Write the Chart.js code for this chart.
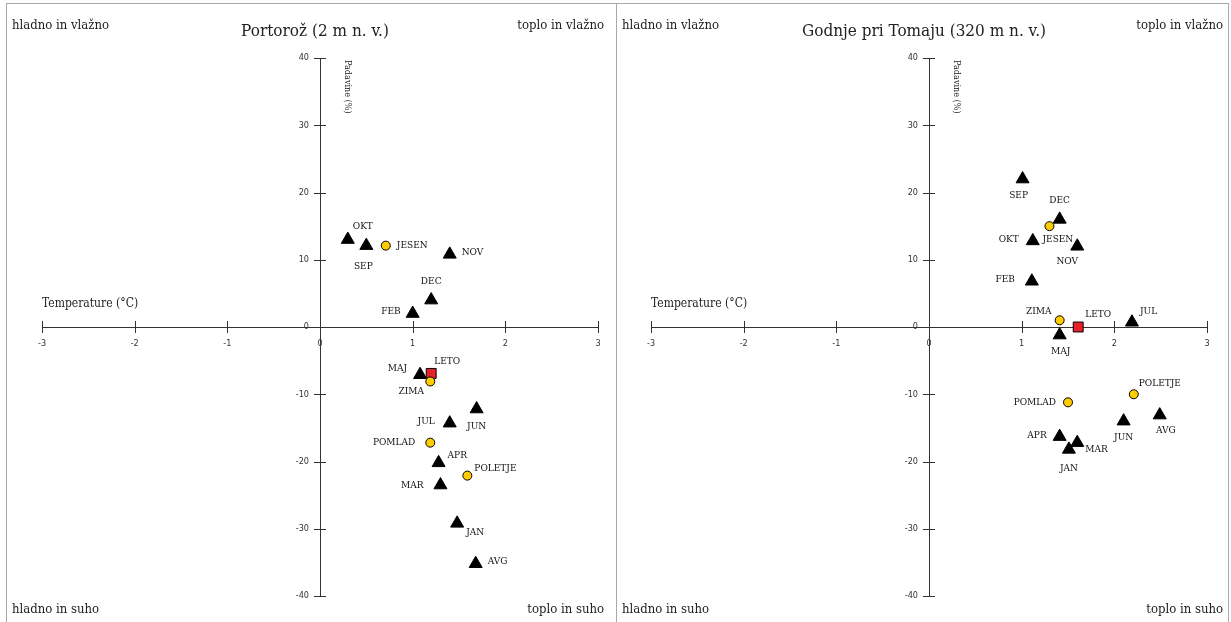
<!DOCTYPE html>
<html><head><meta charset="utf-8">
<script src="https://cdn.jsdelivr.net/npm/chart.js@4/dist/chart.umd.min.js"></script>
<style>
html,body{margin:0;padding:0;background:#fff;}
#wrap{position:relative;width:1231px;height:622px;overflow:hidden;background:#fff;}
.fr{position:absolute;background:#a8a8a8;}
canvas{position:absolute;top:4px;}
</style></head><body>
<div id="wrap">
  <div class="fr" style="left:6px;top:3px;width:1px;height:619px"></div>
  <div class="fr" style="left:616px;top:3px;width:1px;height:619px"></div>
  <div class="fr" style="left:1228px;top:3px;width:1px;height:619px"></div>
  <div class="fr" style="left:6px;top:3px;width:1223px;height:1px"></div>
  <canvas id="c1" width="609" height="616" style="left:7px"></canvas>
  <canvas id="c2" width="610" height="616" style="left:617px"></canvas>
</div>
<script>
// ---- data ----
const monthLabels = ['JAN','FEB','MAR','APR','MAJ','JUN','JUL','AVG','SEP','OKT','NOV','DEC'];
const seasonLabels = ['ZIMA','POMLAD','POLETJE','JESEN'];
const yearLabels = ['LETO'];
const xTickValues = [-3,-2,-1,0,1,2,3];
const yTickValues = [-40,-30,-20,-10,0,10,20,30,40];

const portorozMonthTemp = [1.48, 1.0, 1.3, 1.28, 1.08, 1.69, 1.4, 1.68, 0.5, 0.3, 1.4, 1.2];
const portorozMonthPrec = [-29.2, 2.0, -23.5, -20.2, -7.1, -12.2, -14.3, -35.2, 12.1, 13.0, 10.8, 4.0];
const portorozSeasonTemp = [1.19, 1.19, 1.59, 0.71];
const portorozSeasonPrec = [-8.1, -17.2, -22.1, 12.1];
const portorozYearTemp = [1.2];
const portorozYearPrec = [-6.9];

const godnjeMonthTemp = [1.51, 1.11, 1.6, 1.41, 1.41, 2.1, 2.19, 2.49, 1.01, 1.12, 1.6, 1.41];
const godnjeMonthPrec = [-18.2, 6.8, -17.2, -16.3, -1.2, -14.0, 0.7, -13.1, 22.0, 12.8, 12.0, 16.0];
const godnjeSeasonTemp = [1.41, 1.5, 2.21, 1.3];
const godnjeSeasonPrec = [1.0, -11.2, -10.0, 15.0];
const godnjeYearTemp = [1.61];
const godnjeYearPrec = [0];

// ---- label placement (style only): [align, dx, dy] ----
const portorozLabelPos = {
  OKT:['center',15,-13], SEP:['center',-3,21], JESEN:['left',11,0], NOV:['left',12,-2],
  DEC:['center',0,-19], FEB:['right',-12,-2], MAJ:['right',-13,-6], LETO:['left',3,-12],
  ZIMA:['center',-19,10], JUN:['center',0,17], JUL:['right',-15,-2], POMLAD:['right',-15,0],
  APR:['left',9,-7], POLETJE:['left',7,-7], MAR:['right',-17,0], JAN:['left',9,9], AVG:['left',12,-2]
};
const godnjeLabelPos = {
  SEP:['center',-4,16], DEC:['center',0,-19], JESEN:['left',-7,13], OKT:['right',-14,-2],
  NOV:['center',-10,15], FEB:['right',-17,-2], ZIMA:['center',-21,-9], MAJ:['center',1,16],
  LETO:['left',7,-13], JUL:['left',8,-11], POLETJE:['left',5,-11], POMLAD:['right',-12,0],
  AVG:['center',6,15], JUN:['center',0,16], APR:['right',-13,-1], MAR:['left',8,7], JAN:['center',0,19]
};

const SERIF = "'DejaVu Serif Condensed','DejaVu Serif','Liberation Serif',serif";
const SANS = "'DejaVu Sans Condensed','DejaVu Sans','Liberation Sans',sans-serif";

function pts(xs, ys){ return xs.map((x,i)=>({x:x, y:ys[i]})); }

const decorPlugin = {
  id: 'decor',
  afterDatasetsDraw(chart){
    const o = chart.options.plugins.decor;
    const ctx = chart.ctx;
    const xs = chart.scales.x, ys = chart.scales.y;
    const ca = chart.chartArea;
    const x0 = xs.getPixelForValue(0), y0 = ys.getPixelForValue(0);
    ctx.save();
    // cross tick marks
    ctx.strokeStyle = '#333'; ctx.lineWidth = 1;
    ctx.beginPath();
    xs.ticks.forEach(t=>{ const px = Math.round(xs.getPixelForValue(t.value))+0.5; ctx.moveTo(px, y0-6); ctx.lineTo(px, y0+6); });
    ys.ticks.forEach(t=>{ const py = Math.round(ys.getPixelForValue(t.value))+0.5; ctx.moveTo(x0-6, py); ctx.lineTo(x0+6, py); });
    ctx.stroke();
    // y tick labels (from the library's y scale)
    ctx.fillStyle = '#333';
    ctx.font = "9px " + SANS;
    ctx.textAlign = 'right'; ctx.textBaseline = 'middle';
    ys.ticks.forEach(t=>{ ctx.fillText(String(t.value), x0 - 11, ys.getPixelForValue(t.value)); });
    // point labels
    ctx.fillStyle = '#111';
    ctx.font = "10px " + SERIF;
    ctx.textBaseline = 'middle';
    chart.data.datasets.forEach((ds, di)=>{
      const meta = chart.getDatasetMeta(di);
      meta.data.forEach((el, i)=>{
        const name = ds.names[i];
        const p = o.pos[name] || ['left',10,0];
        ctx.textAlign = p[0];
        ctx.fillText(name, el.x + p[1], el.y + p[2]);
      });
    });
    // axis titles
    ctx.fillStyle = '#222';
    ctx.font = "12px " + SERIF;
    ctx.textAlign = 'left';
    ctx.fillText('Temperature (°C)', ca.left, y0 - 23);
    ctx.save();
    ctx.translate(x0 + 27, ca.top + 2);
    ctx.rotate(Math.PI/2);
    ctx.font = "9px " + SERIF;
    ctx.textBaseline = 'middle';
    ctx.fillText('Padavine (%)', 0, 0);
    ctx.restore();
    // title
    ctx.font = "17px " + SERIF;
    ctx.textAlign = 'center';
    ctx.fillText(o.title, (ca.left+ca.right)/2 - 5, 28);
    // corners
    ctx.font = "13px " + SERIF;
    ctx.textAlign = 'left';
    ctx.fillText('hladno in vlažno', 5, 22);
    ctx.fillText('hladno in suho', 5, 606);
    ctx.textAlign = 'right';
    ctx.fillText('toplo in vlažno', chart.width - o.cornerRight, 22);
    ctx.fillText('toplo in suho', chart.width - o.cornerRight, 606);
    ctx.restore();
  }
};

function makeChart(id, title, pos, mT, mP, sT, sP, yT, yP, padL, padR, cornerRight){
  return new Chart(document.getElementById(id), {
    type: 'scatter',
    data: { datasets: [
      { names: seasonLabels, data: pts(sT, sP), pointStyle: 'circle', pointRadius: 4.5, pointHoverRadius: 4.5,
        backgroundColor: '#FFCC00', borderColor: '#000', borderWidth: 1 },
      { names: yearLabels, data: pts(yT, yP), pointStyle: 'rect', pointRadius: 7, pointHoverRadius: 7,
        backgroundColor: '#E8202A', borderColor: '#000', borderWidth: 1 },
      { names: monthLabels, data: pts(mT, mP), pointStyle: 'triangle', pointRadius: 7.5, pointHoverRadius: 7.5,
        backgroundColor: '#000', borderColor: '#000', borderWidth: 1 }
    ]},
    options: {
      responsive: false, animation: false, devicePixelRatio: 1,
      layout: { padding: { left: padL, right: padR, top: 54, bottom: 24 } },
      plugins: { legend: {display:false}, tooltip: {enabled:false}, title:{display:false},
                 decor: { title: title, pos: pos, cornerRight: cornerRight } },
      scales: {
        x: { type: 'linear', position: { y: 0 }, min: -3, max: 3,
             afterBuildTicks: s => { s.ticks = xTickValues.map(v=>({value:v})); },
             afterFit: s => { s.height = 0; },
             grid: { display: true, drawOnChartArea: false, drawTicks: false },
             border: { display: true, color: '#333', width: 1 },
             ticks: { autoSkip: false, maxRotation: 0, padding: 11, color: '#333', font: { family: SANS, size: 9 } } },
        y: { type: 'linear', position: { x: 0 }, min: -40, max: 40,
             afterBuildTicks: s => { s.ticks = yTickValues.map(v=>({value:v})); },
             afterFit: s => { s.width = 0; },
             grid: { display: true, drawOnChartArea: false, drawTicks: false },
             border: { display: true, color: '#333', width: 1 },
             ticks: { display: false, autoSkip: false } }
      }
    },
    plugins: [decorPlugin]
  });
}

makeChart('c1', 'Portorož (2 m n. v.)', portorozLabelPos,
  portorozMonthTemp, portorozMonthPrec, portorozSeasonTemp, portorozSeasonPrec, portorozYearTemp, portorozYearPrec, 35, 18, 12);
makeChart('c2', 'Godnje pri Tomaju (320 m n. v.)', godnjeLabelPos,
  godnjeMonthTemp, godnjeMonthPrec, godnjeSeasonTemp, godnjeSeasonPrec, godnjeYearTemp, godnjeYearPrec, 34, 20, 4);
</script>
</body></html>
